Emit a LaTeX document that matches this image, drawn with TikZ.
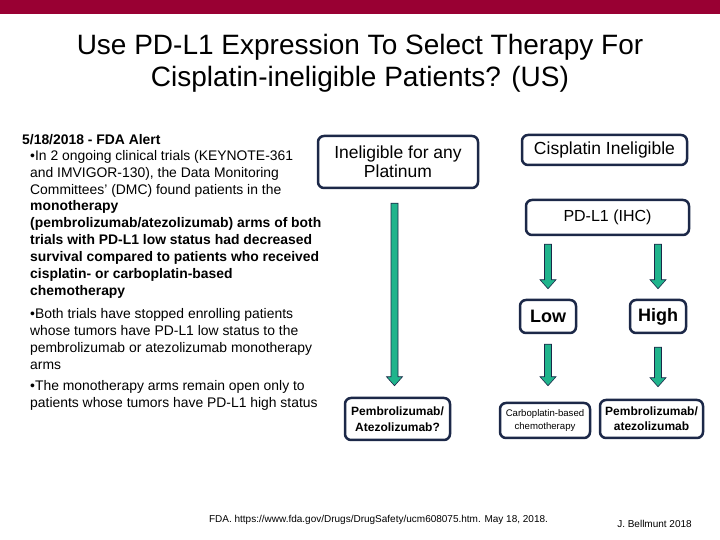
\documentclass[tikz,border=0pt]{standalone}
\usepackage{fontspec}
\setmainfont{Liberation Sans}
\usetikzlibrary{calc,positioning}

\definecolor{slidered}{RGB}{153,0,51}
\definecolor{boxnavy}{RGB}{28,40,72}
\definecolor{arrowteal}{RGB}{32,180,140}

\begin{document}
\begin{tikzpicture}[x=1pt,y=1pt]
	\tikzstyle{decision} = [draw=boxnavy, line width=2.5pt, rounded corners=6pt, fill=white, align=center, inner sep=2pt]
	\tikzstyle{fatarrow} = [fill=arrowteal, draw=boxnavy, line width=0.6pt,
		to path={let \p1=(\tikztostart), \p2=(\tikztotarget) in
			({\x2-3.5pt},\y1) -- ({\x2+3.5pt},\y1) -- ({\x2+3.5pt},{\y2+9pt}) -- ({\x2+8pt},{\y2+9pt})
			-- (\x2,\y2) -- ({\x2-8pt},{\y2+9pt}) -- ({\x2-3.5pt},{\y2+9pt}) -- cycle}]
	\useasboundingbox (0,0) rectangle (720,540);
	\fill[white] (0,0) rectangle (720,540);
	
	% Title bar and heading
	\fill[slidered] (0,526) rectangle (720,540);
	\node[align=center, font=\fontsize{28}{32}\selectfont] (title) at (360,477) {Use PD-L1 Expression To Select Therapy For\\Cisplatin-ineligible Patients? (US)};
	
	% Left text column
	\node[anchor=north west, inner sep=0pt, font=\fontsize{13.9}{17}\selectfont\bfseries] (alert) at (22,406) {5/18/2018 - FDA Alert};
	\node[anchor=north west, inner sep=0pt, align=left, font=\fontsize{13.9}{16.9}\selectfont] (bulletA) at (30,390) {•In 2 ongoing clinical trials (KEYNOTE-361\\and IMVIGOR-130), the Data Monitoring\\Committees' (DMC) found patients in the\\\textbf{monotherapy}\\\textbf{(pembrolizumab/atezolizumab) arms of both}\\\textbf{trials with PD-L1 low status had decreased}\\\textbf{survival compared to patients who received}\\\textbf{cisplatin- or carboplatin-based}\\\textbf{chemotherapy}};
	\node[anchor=north west, inner sep=0pt, align=left, font=\fontsize{13.9}{17}\selectfont] (bulletB) at (30,232) {•Both trials have stopped enrolling patients\\whose tumors have PD-L1 low status to the\\pembrolizumab or atezolizumab monotherapy\\arms};
	\node[anchor=north west, inner sep=0pt, align=left, font=\fontsize{13.9}{17}\selectfont] (bulletC) at (30,160) {•The monotherapy arms remain open only to\\patients whose tumors have PD-L1 high status};
	
	% Decision boxes
	\node[decision, minimum width=160, minimum height=52, font=\fontsize{17.5}{19}\selectfont] (platinum) at (398,378) {Ineligible for any\\Platinum};
	\node[decision, minimum width=165, minimum height=30, font=\fontsize{17.5}{19}\selectfont] (cisplatin) at (604.5,390) {Cisplatin Ineligible};
	\node[decision, minimum width=163, minimum height=35, font=\fontsize{16}{19}\selectfont] (pdl1) at (607.5,322.5) {PD-L1 (IHC)};
	\node[decision, minimum width=56, minimum height=33, font=\fontsize{18}{20}\selectfont\bfseries] (low) at (548,223.5) {Low};
	\node[decision, minimum width=56, minimum height=33, font=\fontsize{18}{20}\selectfont\bfseries] (high) at (658,223.5) {High};
	\node[decision, minimum width=105, minimum height=42, font=\fontsize{12}{16}\selectfont\bfseries] (pembroQ) at (397.5,121) {Pembrolizumab/\\Atezolizumab?};
	\node[decision, minimum width=90, minimum height=35, font=\fontsize{9.6}{12.5}\selectfont] (carbo) at (545,119.5) {Carboplatin-based\\chemotherapy};
	\node[decision, minimum width=103, minimum height=38, font=\fontsize{12}{15}\selectfont\bfseries] (pembroH) at (651.5,121) {Pembrolizumab/\\atezolizumab};
	
	% Block arrows
	\draw[fatarrow] ([yshift=-14pt]platinum.south) to ([xshift=-3pt, yshift=11pt]pembroQ.north);
	\draw[fatarrow] ([yshift=-8pt]pdl1.south) to ([yshift=10pt]low.north);
	\draw[fatarrow] ([yshift=-8pt]pdl1.south) to ([yshift=10pt]high.north);
	\draw[fatarrow] ([yshift=-10pt]low.south) to ([xshift=3pt, yshift=16pt]carbo.north);
	\draw[fatarrow] ([yshift=-13pt]high.south) to ([xshift=6.5pt, yshift=12pt]pembroH.north);
	
	% Footer
	\node[font=\fontsize{10}{12}\selectfont] (source) at (378.5,20) {FDA. https://www.fda.gov/Drugs/DrugSafety/ucm608075.htm. May 18, 2018.};
	\node[font=\fontsize{10}{12}\selectfont] (credit) at (654.5,16) {J. Bellmunt 2018};
\end{tikzpicture}
\end{document}
